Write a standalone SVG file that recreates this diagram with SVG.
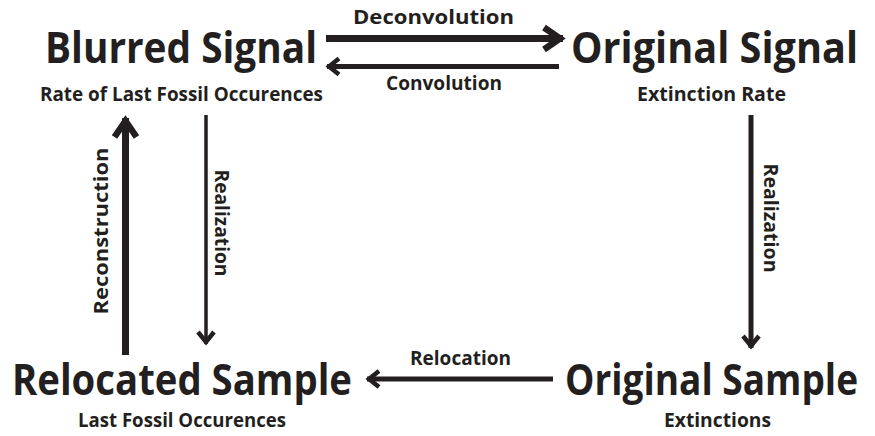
<svg xmlns="http://www.w3.org/2000/svg" width="875" height="436" viewBox="0 0 875 436">
<defs>
<style>
text{font-family:"Open Sans","Noto Sans","DejaVu Sans",sans-serif;font-weight:bold;fill:#231f20;text-anchor:middle}
.title{font-size:43px}
.end{text-anchor:end}
.sub{font-size:19px}
.lbl{font-size:19px}
.thick{stroke:#231f20;stroke-width:7;fill:none}
.mid{stroke:#231f20;stroke-width:5;fill:none}
.thin{stroke:#231f20;stroke-width:3.5;fill:none}
</style>
<marker id="headBig" markerUnits="userSpaceOnUse" markerWidth="40" markerHeight="40" viewBox="-30 -20 40 40" refX="0" refY="0" orient="auto" overflow="visible">
<path d="M-19,-11 L-3,0 L-19,11" fill="none" stroke="#231f20" stroke-width="6.5" stroke-miterlimit="10"/>
</marker>
<marker id="headSmall" markerUnits="userSpaceOnUse" markerWidth="30" markerHeight="30" viewBox="-20 -15 30 30" refX="0" refY="0" orient="auto" overflow="visible">
<path d="M-12,-8 L-2,0 L-12,8" fill="none" stroke="#231f20" stroke-width="4.5" stroke-miterlimit="10"/>
</marker>
</defs>
<rect width="875" height="436" fill="#ffffff"/>
<g id="blurred-signal">
<text class="title" x="181" y="63" textLength="272" lengthAdjust="spacingAndGlyphs">Blurred Signal</text>
<text class="sub" x="181.5" y="101" textLength="283" lengthAdjust="spacingAndGlyphs">Rate of Last Fossil Occurences</text>
</g>
<g id="original-signal">
<text class="title end" x="858" y="63" textLength="287" lengthAdjust="spacingAndGlyphs">Original Signal</text>
<text class="sub" x="711.5" y="101" textLength="149" lengthAdjust="spacingAndGlyphs">Extinction Rate</text>
</g>
<g id="relocated-sample">
<text class="title" x="182" y="395" textLength="340" lengthAdjust="spacingAndGlyphs">Relocated Sample</text>
<text class="sub" x="182" y="427" textLength="208" lengthAdjust="spacingAndGlyphs">Last Fossil Occurences</text>
</g>
<g id="original-sample">
<text class="title end" x="858" y="395" textLength="293" lengthAdjust="spacingAndGlyphs">Original Sample</text>
<text class="sub" x="717.5" y="427" textLength="107" lengthAdjust="spacingAndGlyphs">Extinctions</text>
</g>
<g id="connectors">
<line class="thick" x1="326" y1="38.5" x2="563" y2="38.5" marker-end="url(#headBig)"/>
<line class="mid" x1="559" y1="66.5" x2="327" y2="66.5" marker-end="url(#headSmall)"/>
<line class="thick" x1="125.5" y1="355" x2="125.5" y2="118" marker-end="url(#headBig)"/>
<line class="thin" x1="206" y1="115" x2="206" y2="344" marker-end="url(#headSmall)"/>
<line class="mid" x1="751" y1="115" x2="751" y2="348" marker-end="url(#headSmall)"/>
<line class="mid" x1="553" y1="379" x2="367" y2="379" marker-end="url(#headSmall)"/>
<text class="lbl" x="433.5" y="24" textLength="161" lengthAdjust="spacingAndGlyphs">Deconvolution</text>
<text class="lbl" x="444" y="90" textLength="116" lengthAdjust="spacingAndGlyphs">Convolution</text>
<text class="lbl" x="460.5" y="365" textLength="101" lengthAdjust="spacingAndGlyphs">Relocation</text>
<text class="lbl" transform="translate(108,231) rotate(-90)" x="0" y="0" textLength="167" lengthAdjust="spacingAndGlyphs">Reconstruction</text>
<text class="lbl" transform="translate(215,223) rotate(90)" x="0" y="0" textLength="107" lengthAdjust="spacingAndGlyphs">Realization</text>
<text class="lbl" transform="translate(764,218) rotate(90)" x="0" y="0" textLength="109" lengthAdjust="spacingAndGlyphs">Realization</text>
</g>
</svg>
